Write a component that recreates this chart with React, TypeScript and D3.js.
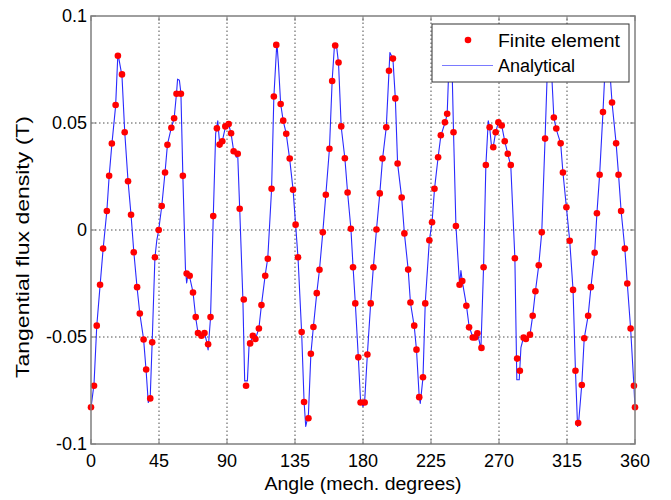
import React from "react";
import * as d3 from "d3";

// Finite element samples (angle in mech. degrees, tangential flux density in T)
const feAngle = [
  0, 2.0, 3.8, 6.0, 8.0, 10.5, 12.0, 13.8, 16.3, 17.8, 20.5, 22.3, 24.5, 26.5, 28.3, 30.5, 32.3, 34.8, 36.5, 39.2,
  40.5, 42.3, 44.8, 46.8, 49.0, 50.6, 53.2, 55.0, 56.6, 59.5, 60.8, 63.3, 65.3, 67.5, 69.3, 70.8, 73.1, 75.1, 77.5, 79.1,
  80.9, 83.3, 85.1, 86.9, 88.9, 91.1, 92.7, 94.4, 97.1, 98.4, 101.1, 102.6, 105.3, 107.1, 108.8, 111.1, 112.8, 115.3, 117.0, 119.5,
  121.0, 122.6, 125.5, 127.2, 129.2, 131.5, 133.7, 135.4, 137.0, 139.4, 141.0, 143.9, 145.5, 147.2, 149.4, 151.2, 153.4, 155.4, 157.8, 159.6,
  161.6, 163.8, 165.6, 168.0, 169.8, 172.0, 173.4, 174.9, 176.9, 178.4, 181.1, 182.9, 185.1, 186.9, 188.9, 191.1, 192.9, 195.4, 197.2, 199.8,
  201.4, 202.9, 205.6, 207.4, 209.9, 211.4, 213.9, 215.4, 217.2, 219.7, 221.2, 223.9, 225.7, 227.3, 229.7, 231.5, 234.2, 235.7, 237.6, 239.9,
  241.5, 243.9, 245.7, 248.4, 250.2, 252.6, 254.2, 255.7, 258.4, 259.8, 261.3, 263.8, 266.2, 267.8, 269.6, 271.8, 273.8, 275.8, 277.8, 280.5,
  282.0, 283.8, 286.3, 287.8, 290.5, 292.3, 294.1, 296.3, 298.3, 300.5, 303.0, 306.3, 307.9, 310.8, 312.3, 314.6, 316.8, 319.0, 320.6, 322.4,
  324.8, 326.4, 329.0, 330.8, 333.3, 334.8, 336.6, 338.8, 341.6, 344.8, 347.5, 349.1, 350.8, 353.3, 354.9, 357.1, 359.3, 360,
];
const feValue = [
  -0.0828, -0.0728, -0.0447, -0.0256, -0.0087, 0.0089, 0.0253, 0.0404, 0.0584, 0.0814, 0.0727, 0.0457, 0.0228, 0.0071, -0.0104, -0.0267, -0.039, -0.0512, -0.0652, -0.0787,
  -0.0525, -0.0127, 0.0, 0.0112, 0.0269, 0.0398, 0.0478, 0.0522, 0.0637, 0.0637, 0.0253, -0.0203, -0.0214, -0.0292, -0.0407, -0.0481, -0.0494, -0.0481, -0.0534, -0.0407,
  0.0065, 0.0475, 0.0399, 0.0415, 0.0484, 0.0495, 0.0452, 0.0368, 0.0356, 0.0099, -0.0325, -0.0728, -0.053, -0.0494, -0.0509, -0.046, -0.0351, -0.0214, -0.0134, 0.0193,
  0.0624, 0.0865, 0.0589, 0.0511, 0.045, 0.0334, 0.0188, 0.0025, -0.0127, -0.0477, -0.0804, -0.088, -0.0578, -0.0453, -0.0295, -0.0186, -0.0011, 0.0165, 0.038, 0.0696,
  0.0862, 0.0783, 0.0484, 0.0335, 0.0175, 0.0006, -0.0174, -0.0343, -0.0595, -0.0806, -0.0806, -0.0582, -0.0343, -0.0174, 0.0002, 0.0171, 0.0334, 0.048, 0.0744, 0.0801,
  0.0615, 0.0311, 0.0152, -0.0016, -0.0185, -0.0339, -0.0447, -0.0559, -0.0781, -0.0688, -0.0343, -0.0048, 0.0036, 0.0193, 0.034, 0.0443, 0.0503, 0.0543, 0.084, 0.0457,
  0.0019, -0.0256, -0.0238, -0.0354, -0.0455, -0.0502, -0.0502, -0.0483, -0.0551, -0.0174, 0.0304, 0.048, 0.0387, 0.0457, 0.0503, 0.0488, 0.0415, 0.0356, 0.0304, -0.0132,
  -0.0601, -0.0658, -0.0503, -0.0509, -0.0489, -0.0401, -0.0286, -0.0165, -0.0011, 0.0427, 0.084, 0.0526, 0.0474, 0.0405, 0.0269, 0.0106, -0.005, -0.028, -0.0658, -0.0902,
  -0.0724, -0.0506, -0.0401, -0.0267, -0.0106, 0.0078, 0.0258, 0.0551, 0.083, 0.0596, 0.0405, 0.0258, 0.0089, -0.0087, -0.025, -0.046, -0.0728, -0.0828,
];

// Analytical curve
const anAngle = [
  0, 2.0, 3.8, 6.0, 8.0, 10.5, 12.0, 13.8, 16.3, 17.8, 20.5, 22.3, 24.5, 26.5, 28.3, 30.5, 32.3, 34.8, 36.5, 37.9,
  39.2, 40.5, 42.3, 43.5, 44.8, 46.8, 49.0, 50.6, 53.2, 55.0, 56.6, 57.3, 58.5, 59.5, 60.8, 62.5, 63.3, 64.3, 65.3, 67.5,
  69.3, 70.8, 73.1, 75.1, 76.5, 77.5, 79.1, 80.9, 82.5, 83.9, 85.3, 86.9, 88.9, 91.1, 92.7, 94.4, 96.2, 97.1, 98.4, 100.5,
  101.7, 103.5, 104.6, 105.3, 107.1, 108.8, 111.1, 112.8, 115.3, 117.0, 119.5, 121.0, 123.0, 124.0, 125.5, 127.2, 129.2, 131.5, 133.7, 135.4,
  137.0, 139.4, 141.0, 142.1, 143.9, 145.5, 147.2, 149.4, 151.2, 153.4, 155.4, 157.8, 159.6, 161.2, 162.3, 163.8, 165.6, 168.0, 169.8, 172.0,
  173.4, 174.9, 176.9, 178.4, 180.0, 181.1, 182.9, 185.1, 186.9, 188.9, 191.1, 192.9, 195.4, 197.2, 197.8, 199.8, 201.4, 202.9, 205.6, 207.4,
  209.9, 211.4, 213.9, 215.4, 217.2, 217.9, 219.7, 221.2, 223.9, 225.7, 227.3, 229.7, 231.5, 234.2, 235.7, 237.0, 237.8, 238.8, 239.9, 241.5,
  243.9, 244.8, 245.7, 248.4, 250.2, 252.6, 254.2, 255.7, 257.0, 258.0, 259.8, 261.3, 262.9, 263.8, 265.1, 266.2, 267.8, 269.6, 271.8, 273.8,
  275.8, 277.8, 280.5, 281.8, 283.4, 284.5, 286.3, 287.8, 290.5, 292.3, 294.1, 296.3, 298.3, 300.5, 302.0, 303.0, 304.5, 306.3, 307.9, 310.8,
  312.3, 314.6, 316.8, 319.0, 320.6, 322.0, 322.8, 324.8, 326.4, 329.0, 330.8, 333.3, 334.8, 336.6, 338.8, 340.5, 341.5, 343.0, 344.8, 347.5,
  349.1, 350.8, 353.3, 354.9, 357.1, 359.3, 360,
];
const anValue = [
  -0.083, -0.072, -0.045, -0.026, -0.009, 0.009, 0.025, 0.04, 0.058, 0.0825, 0.072, 0.046, 0.023, 0.007, -0.01, -0.027, -0.039, -0.051, -0.066, -0.0806,
  -0.078, -0.052, -0.013, -0.005, 0.0, 0.011, 0.027, 0.04, 0.048, 0.052, 0.064, 0.0705, 0.07, 0.064, 0.025, -0.018, -0.0247, -0.02, -0.022, -0.029,
  -0.041, -0.048, -0.049, -0.048, -0.052, -0.056, -0.041, 0.006, 0.045, 0.051, 0.0387, 0.0415, 0.048, 0.0495, 0.045, 0.037, 0.034, 0.035, 0.01, -0.032,
  -0.0705, -0.0705, -0.054, -0.053, -0.0494, -0.051, -0.046, -0.035, -0.021, -0.013, 0.019, 0.062, 0.0876, 0.078, 0.059, 0.051, 0.045, 0.033, 0.019, 0.0025,
  -0.013, -0.048, -0.08, -0.0918, -0.086, -0.058, -0.045, -0.0295, -0.0186, -0.001, 0.0165, 0.038, 0.07, 0.0871, 0.0871, 0.078, 0.048, 0.0335, 0.0175, 0.0006,
  -0.017, -0.034, -0.0595, -0.08, -0.0825, -0.08, -0.058, -0.034, -0.017, 0.0, 0.017, 0.033, 0.048, 0.074, 0.0829, 0.08, 0.0615, 0.031, 0.015, -0.0016,
  -0.0185, -0.034, -0.045, -0.056, -0.078, -0.081, -0.069, -0.034, -0.005, 0.0036, 0.019, 0.034, 0.044, 0.05, 0.054, 0.08, 0.088, 0.08, 0.046, 0.002,
  -0.0256, -0.019, -0.024, -0.035, -0.045, -0.05, -0.05, -0.048, -0.052, -0.056, -0.017, 0.03, 0.051, 0.048, 0.0387, 0.039, 0.0457, 0.0503, 0.0488, 0.0415,
  0.0356, 0.03, -0.013, -0.07, -0.07, -0.055, -0.05, -0.051, -0.049, -0.04, -0.0286, -0.0165, -0.001, 0.043, 0.075, 0.088, 0.078, 0.0526, 0.047, 0.0405,
  0.027, 0.0106, -0.005, -0.028, -0.0658, -0.0918, -0.089, -0.072, -0.0506, -0.04, -0.027, -0.0106, 0.0078, 0.026, 0.055, 0.08, 0.086, 0.078, 0.0596, 0.0405,
  0.026, 0.009, -0.009, -0.025, -0.046, -0.073, -0.083,
];

const xTicks = [0, 45, 90, 135, 180, 225, 270, 315, 360];
const yTicks = [-0.1, -0.05, 0, 0.05, 0.1];
const yTickLabels = ["-0.1", "-0.05", "0", "0.05", "0.1"];
const seriesNames = ["Finite element", "Analytical"];
const xTitle = "Angle (mech. degrees)";
const yTitle = "Tangential flux density (T)";

const W = 671;
const H = 500;
const M = { left: 91, right: 36, top: 16, bottom: 56 };
const FONT = "'Liberation Sans', Arial, Helvetica, sans-serif";

export default function App() {
  const x = d3.scaleLinear().domain([0, 360]).range([M.left, W - M.right]);
  const y = d3.scaleLinear().domain([-0.1, 0.1]).range([H - M.bottom, M.top]);
  const x0 = M.left, x1 = W - M.right, y0 = H - M.bottom, y1 = M.top;

  const anData = anAngle.map((a, i) => [a, anValue[i]] as [number, number]);
  const line = d3.line<[number, number]>().x((d) => x(d[0])).y((d) => y(d[1]));

  const axisColor = "#7f7f7f";
  const gridColor = "#222";

  // legend geometry
  const lg = { x: 432, y: 24, w: 197, h: 58 };

  return (
    <svg width={W} height={H} style={{ position: "absolute", left: 0, top: 0, background: "#fff" }} fontFamily={FONT}>
      <rect x={0} y={0} width={W} height={H} fill="#fff" />
      {/* grid */}
      {xTicks.slice(1, -1).map((t) => (
        <line key={"gx" + t} x1={x(t)} x2={x(t)} y1={y0} y2={y1} stroke={gridColor} strokeWidth={0.8} strokeDasharray="1.5,2.5" />
      ))}
      {yTicks.slice(1, -1).map((t) => (
        <line key={"gy" + t} x1={x0} x2={x1} y1={y(t)} y2={y(t)} stroke={gridColor} strokeWidth={0.8} strokeDasharray="1.5,2.5" />
      ))}
      {/* analytical line */}
      <path d={line(anData) || ""} fill="none" stroke="#2a2aff" strokeWidth={1.1} strokeLinejoin="round" />
      {/* FE dots */}
      {feAngle.map((a, i) => (
        <circle key={"d" + i} cx={x(a)} cy={y(feValue[i])} r={3.3} fill="#ff0000" />
      ))}
      {/* frame */}
      <rect x={x0} y={y1} width={x1 - x0} height={y0 - y1} fill="none" stroke={axisColor} strokeWidth={1.5} />
      {/* ticks */}
      {xTicks.map((t) => (
        <g key={"tx" + t}>
          <line x1={x(t)} x2={x(t)} y1={y0} y2={y0 - 5} stroke={axisColor} strokeWidth={1} />
          <line x1={x(t)} x2={x(t)} y1={y1} y2={y1 + 5} stroke={axisColor} strokeWidth={1} />
          <text x={x(t)} y={467} textAnchor="middle" fontSize={18} fill="#000">{t}</text>
        </g>
      ))}
      {yTicks.map((t, i) => (
        <g key={"ty" + t}>
          <line x1={x0} x2={x0 + 5} y1={y(t)} y2={y(t)} stroke={axisColor} strokeWidth={1} />
          <line x1={x1} x2={x1 - 5} y1={y(t)} y2={y(t)} stroke={axisColor} strokeWidth={1} />
          <text x={87} y={y(t)} dy="0.36em" textAnchor="end" fontSize={18} fill="#000">{yTickLabels[i]}</text>
        </g>
      ))}
      {/* axis titles */}
      <text x={(x0 + x1) / 2} y={490} textAnchor="middle" fontSize={18} textLength={197} lengthAdjust="spacingAndGlyphs" fill="#000">{xTitle}</text>
      <text transform={`translate(29,247) rotate(-90)`} textAnchor="middle" fontSize={18} textLength={262} lengthAdjust="spacingAndGlyphs" fill="#000">{yTitle}</text>
      {/* legend */}
      <rect x={lg.x} y={lg.y} width={lg.w} height={lg.h} fill="#fff" stroke="#333" strokeWidth={1} />
      <circle cx={468} cy={40} r={3.3} fill="#ff0000" />
      <line x1={442} x2={493} y1={65.5} y2={65.5} stroke="#7a7aff" strokeWidth={1.2} />
      <text x={498} y={47} fontSize={18} textLength={122} lengthAdjust="spacingAndGlyphs" fill="#000">{seriesNames[0]}</text>
      <text x={498} y={72} fontSize={18} fill="#000">{seriesNames[1]}</text>
    </svg>
  );
}
